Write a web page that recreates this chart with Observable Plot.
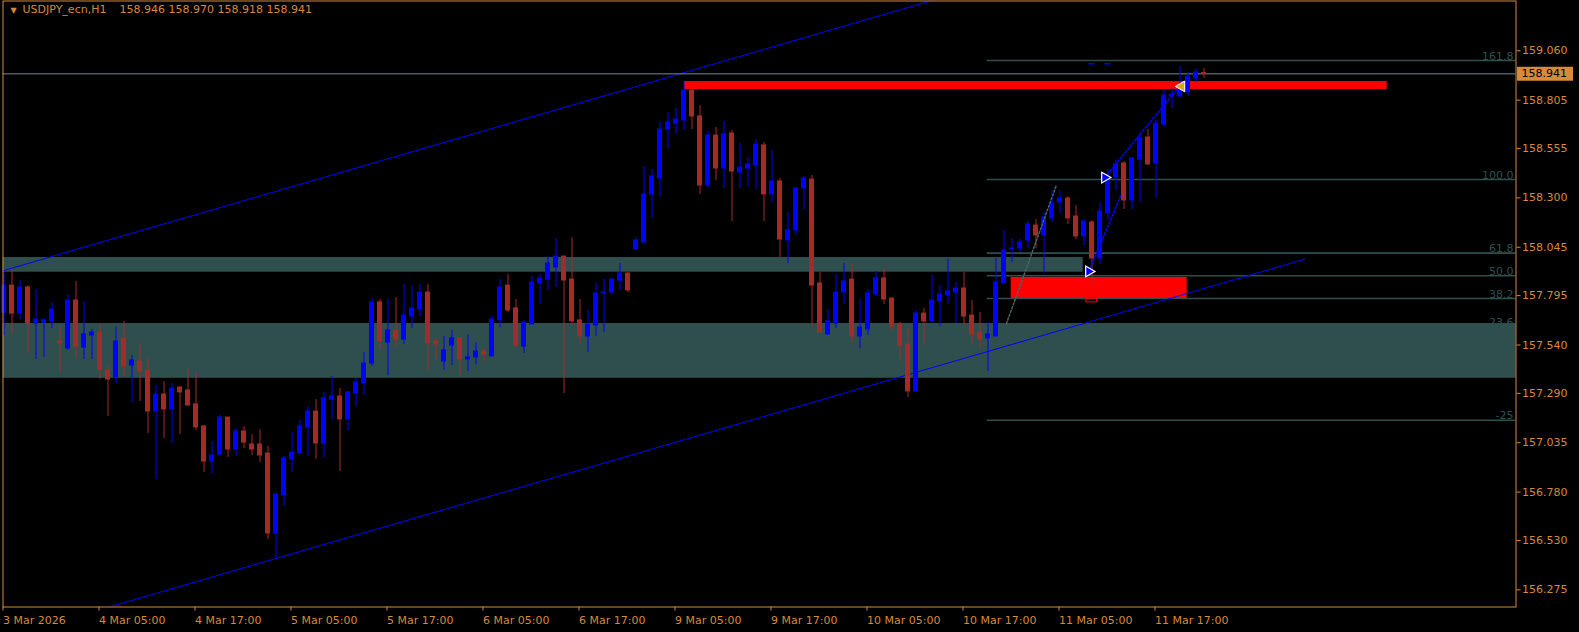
<!DOCTYPE html>
<html><head><meta charset="utf-8">
<script src="https://cdn.jsdelivr.net/npm/d3@7"></script>
<script src="https://cdn.jsdelivr.net/npm/@observablehq/plot@0.6"></script>
<style>html,body{margin:0;padding:0;background:#000;overflow:hidden}</style>
</head><body><div id="chart"></div>
<script>
// ---- Data (USDJPY_ecn, H1; bar index 0 = 3 Mar 17:00, 150 = 11 Mar 23:00) ----
const opens = [157.708,157.847,157.702,157.837,157.651,157.656,157.662,157.558,157.522,157.770,157.527,157.589,157.604,157.408,157.372,157.573,157.434,157.455,157.408,157.196,157.284,157.207,157.320,157.305,157.233,157.119,156.938,156.974,157.165,157.000,157.093,157.026,157.026,156.979,156.566,156.763,156.948,156.979,157.114,157.196,157.031,157.258,157.274,157.155,157.289,157.341,157.444,157.760,157.553,157.615,157.568,157.687,157.723,157.811,157.558,157.455,157.537,157.574,157.465,157.476,157.506,157.481,157.667,157.847,157.729,157.532,157.646,157.858,157.878,157.940,157.997,157.878,157.667,157.584,157.641,157.806,157.811,157.873,157.909,158.033,158.070,158.318,158.400,158.653,158.684,158.700,158.855,158.721,158.364,158.622,158.452,158.633,158.431,158.452,158.467,158.571,158.318,158.385,158.080,158.132,158.349,158.395,157.858,157.594,157.651,157.811,157.878,157.584,157.620,157.801,157.884,157.780,157.646,157.543,157.300,157.702,157.662,157.765,157.796,157.811,157.832,157.692,157.604,157.574,157.584,157.858,158.033,158.039,158.080,158.157,158.106,158.194,158.276,158.297,158.204,158.101,158.173,157.987,158.219,158.405,158.478,158.287,158.498,158.612,158.478,158.679,158.824,158.824,158.845,158.917,158.946];
const highs = [157.909,157.925,157.873,157.847,157.827,157.677,157.760,157.636,157.801,157.868,157.765,157.620,157.646,157.429,157.630,157.662,157.486,157.548,157.470,157.331,157.351,157.341,157.326,157.413,157.398,157.124,157.041,157.176,157.165,157.109,157.119,157.077,157.103,157.016,156.773,156.964,157.088,157.150,157.222,157.258,157.295,157.377,157.315,157.300,157.367,157.501,157.780,157.775,157.775,157.785,157.853,157.842,157.853,157.853,157.574,157.584,157.615,157.574,157.594,157.553,157.517,157.687,157.878,157.904,157.775,157.667,157.894,157.904,157.997,158.090,157.997,158.095,157.775,157.718,157.858,157.878,157.878,157.961,157.914,158.095,158.462,158.447,158.690,158.741,158.762,158.901,158.855,158.777,158.643,158.664,158.695,158.648,158.581,158.509,158.602,158.586,158.545,158.400,158.225,158.349,158.411,158.416,157.914,157.723,157.904,157.961,157.956,157.775,157.827,157.920,157.935,157.785,157.656,157.625,157.718,157.729,157.899,157.847,157.982,157.863,157.914,157.770,157.708,157.656,157.987,158.132,158.090,158.085,158.178,158.188,158.225,158.338,158.338,158.307,158.261,158.183,158.183,158.276,158.447,158.493,158.488,158.504,158.633,158.653,158.700,158.855,158.865,158.979,158.948,158.969,158.970];
const lows = [157.589,157.599,157.667,157.496,157.465,157.476,157.625,157.398,157.512,157.470,157.465,157.465,157.362,157.171,157.341,157.372,157.243,157.248,157.083,156.845,157.057,157.031,157.077,157.227,157.098,156.881,156.876,156.969,156.959,156.964,157.005,156.969,156.933,156.535,156.437,156.706,156.881,156.979,156.964,156.948,156.959,157.155,156.886,157.098,157.222,157.279,157.429,157.517,157.382,157.532,157.543,157.625,157.687,157.403,157.465,157.408,157.434,157.382,157.403,157.439,157.455,157.481,157.630,157.708,157.527,157.496,157.646,157.749,157.822,157.837,157.289,157.641,157.543,157.501,157.584,157.605,157.801,157.822,157.811,158.033,158.064,158.194,158.307,158.555,158.628,158.648,158.653,158.318,158.349,158.390,158.349,158.178,158.349,158.359,158.343,158.178,158.276,157.992,157.961,158.106,158.240,157.630,157.604,157.594,157.625,157.749,157.553,157.522,157.589,157.791,157.749,157.615,157.460,157.269,157.300,157.543,157.656,157.636,157.749,157.651,157.636,157.543,157.522,157.403,157.584,157.858,157.966,158.018,158.039,158.039,157.909,158.173,158.219,158.163,158.085,158.054,157.853,157.956,158.188,158.338,158.240,158.240,158.276,158.467,158.297,158.664,158.762,158.824,158.824,158.896,158.918];
const closes = [157.847,157.702,157.837,157.651,157.672,157.667,157.723,157.548,157.770,157.532,157.594,157.604,157.413,157.362,157.558,157.429,157.460,157.403,157.196,157.284,157.207,157.315,157.295,157.227,157.114,156.938,156.969,157.165,157.000,157.093,157.036,157.000,156.969,156.566,156.768,156.954,156.985,157.119,157.196,157.031,157.264,157.274,157.155,157.295,157.346,157.444,157.760,157.558,157.615,157.568,157.692,157.729,157.811,157.548,157.543,157.512,157.574,157.465,157.476,157.506,157.491,157.672,157.837,157.718,157.537,157.656,157.863,157.884,157.961,157.997,157.873,157.662,157.584,157.646,157.806,157.811,157.878,157.909,157.822,158.080,158.318,158.411,158.653,158.690,158.705,158.855,158.721,158.364,158.622,158.452,158.628,158.436,158.457,158.473,158.576,158.318,158.385,158.085,158.132,158.349,158.400,157.847,157.604,157.662,157.811,157.868,157.584,157.630,157.806,157.884,157.775,157.636,157.537,157.300,157.702,157.662,157.770,157.801,157.816,157.832,157.687,157.594,157.568,157.594,157.863,158.028,158.039,158.070,158.163,158.106,158.199,158.271,158.297,158.194,158.101,158.178,157.987,158.230,158.390,158.473,158.287,158.504,158.607,158.473,158.684,158.829,158.834,158.855,158.927,158.948,158.941];

const priceTicks = [159.060,158.805,158.555,158.300,158.045,157.795,157.540,157.290,157.035,156.780,156.530,156.275];
const dateTicks = [0,12,24,36,48,60,72,84,96,108,120,132,144];
const dateLabels = ["3 Mar 2026","4 Mar 05:00","4 Mar 17:00","5 Mar 05:00","5 Mar 17:00","6 Mar 05:00","6 Mar 17:00","9 Mar 05:00","9 Mar 17:00","10 Mar 05:00","10 Mar 17:00","11 Mar 05:00","11 Mar 17:00"];
const symbolName = "USDJPY_ecn,H1";
const lastBar = ["158.946","158.970","158.918","158.941"];
const bidPrice = 158.941;

// Fibonacci retracement (anchors 100 / 0) and displayed levels
const fibHigh = 158.395, fibLow = 157.400, fibStart = 122.9;
const fibLevels = [161.8, 100.0, 61.8, 50.0, 38.2, 23.6, -25];
const fibText = ["161.8","100.0","61.8","50.0","38.2","23.6","-25"];

// Zones (bar index x1..x2, price y1..y2)
const greyZones = [
  {x1: -0.125, x2: 134.9, y1: 157.916, y2: 157.992},
  {x1: -0.125, x2: 189, y1: 157.368, y2: 157.651}
];
const redZones = [
  {x1: 85.06, x2: 172.9, y1: 158.860, y2: 158.901},
  {x1: 125.9, x2: 147.9, y1: 157.780, y2: 157.889}
];
const redOutline = [{x1: 135.3, x2: 136.65, y1: 157.760, y2: 157.779}];

// Equidistant channel
const channelTop = [{i: -1, p: 157.913}, {i: 162.6, p: 159.880}];
const channelBottom = [{i: -1, p: 156.016}, {i: 162.6, p: 157.983}];

// Zigzag / signal lines and markers
const greyDotted = [{i: 125.3, p: 157.650}, {i: 131.5, p: 158.360}];
const blueDottedA = [{i: 135.6, p: 157.920}, {i: 139.6, p: 158.312}];
const blueDottedB = [{i: 137.6, p: 158.405}, {i: 146.8, p: 158.870}];
const topDashes = [{a: 135.6, b: 136.4, p: 158.993}, {a: 137.6, b: 138.4, p: 158.993}];
const buyArrows = [{i: 135.6, p: 157.920}, {i: 137.6, p: 158.405}];
const sellArrow = [{i: 147.2, p: 158.876}];

// ---- Chart ----
const BULL = "#0000FF", BEAR = "#A52A2A", ORANGE = "#D68A3C", SLATE = "#2F4F4F";
const X0 = -0.125, X1 = 189;
const bars = opens.map((o, i) => ({i, o, h: highs[i], l: lows[i], c: closes[i], col: closes[i] >= o ? BULL : BEAR}));
const fibPrice = L => fibLow + (fibHigh - fibLow) * L / 100;

const chart = Plot.plot({
  width: 1579, height: 632,
  marginLeft: 2.5, marginRight: 63.5, marginTop: 0.5, marginBottom: 25.5,
  x: {type: "linear", domain: [X0, X1]},
  y: {type: "linear", domain: [156.1862, 159.3174]},
  style: {background: "#000", color: ORANGE, fontFamily: "DejaVu Sans, sans-serif", fontSize: "11px", overflow: "visible"},
  marks: [
    Plot.ruleY(fibLevels, {y: fibPrice, x1: fibStart, x2: X1, stroke: SLATE, strokeWidth: 1.6}),
    Plot.text(fibLevels, {x: X1, y: fibPrice, text: (d, k) => fibText[k], textAnchor: "end", lineAnchor: "bottom", dx: -2.5, dy: -1, fill: SLATE}),
    Plot.rect(greyZones, {x1: "x1", x2: "x2", y1: "y1", y2: "y2", fill: SLATE}),
    Plot.rect(redZones, {x1: "x1", x2: "x2", y1: "y1", y2: "y2", fill: "#FF0000"}),
    Plot.rect(redOutline, {x1: "x1", x2: "x2", y1: "y1", y2: "y2", fill: "none", stroke: "#FF0000"}),
    Plot.line(channelTop, {x: "i", y: "p", stroke: BULL, strokeWidth: 1, clip: true}),
    Plot.line(channelBottom, {x: "i", y: "p", stroke: BULL, strokeWidth: 1, clip: true}),
    Plot.ruleY([bidPrice], {stroke: "#778899", strokeWidth: 1}),
    Plot.ruleX(bars, {x: "i", y1: "l", y2: "h", stroke: "col", strokeWidth: 1}),
    Plot.rect(bars, {x1: d => d.i - 0.3125, x2: d => d.i + 0.3125, y1: "o", y2: "c", fill: "col", insetTop: -0.5, insetBottom: -0.5}),
    Plot.line(greyDotted, {x: "i", y: "p", stroke: "#4a6464", strokeDasharray: "2,2"}),
    Plot.line(blueDottedA, {x: "i", y: "p", stroke: BULL, strokeDasharray: "2,2"}),
    Plot.line(blueDottedB, {x: "i", y: "p", stroke: BULL, strokeDasharray: "2,2"}),
    Plot.ruleY(topDashes, {y: "p", x1: "a", x2: "b", stroke: BULL, strokeWidth: 1.5}),
    Plot.dot(buyArrows, {x: "i", y: "p", symbol: "triangle", rotate: 90, r: 4, fill: BULL, stroke: "#fff", strokeWidth: 1.2}),
    Plot.dot(sellArrow, {x: "i", y: "p", symbol: "triangle", rotate: -90, r: 4, fill: "#DAA520", stroke: "#fff", strokeWidth: 1}),
    Plot.axisY(priceTicks, {anchor: "right", tickSize: 4, tickPadding: 2, tickFormat: d => d.toFixed(3), stroke: ORANGE, fill: ORANGE, label: null}),
    Plot.axisX(dateTicks, {anchor: "bottom", tickSize: 4, tickPadding: 5, tickFormat: d => dateLabels[dateTicks.indexOf(d)], textAnchor: "start", dx: -1, stroke: ORANGE, fill: ORANGE, label: null}),
    Plot.ruleY([bidPrice], {x1: 189.19, x2: 196.19, stroke: ORANGE, strokeWidth: 14}),
    Plot.text([bidPrice], {x: 189.19, y: d => d, text: d => d.toFixed(3), fill: "#000", textAnchor: "start", dx: 4}),
    Plot.text([symbolName], {frameAnchor: "top-left", text: d => d, dx: 19.5, dy: 4, textAnchor: "start", lineAnchor: "top", fill: ORANGE, ariaLabel: "header-symbol"}),
    Plot.text([lastBar.join(" ")], {frameAnchor: "top-left", text: d => d, dx: 116.5, dy: 4, textAnchor: "start", lineAnchor: "top", fill: ORANGE, ariaLabel: "header-ohlc"}),
    Plot.text(["\u25BC"], {frameAnchor: "top-left", text: d => d, dx: 7.5, dy: 6, fontSize: 8, lineAnchor: "top", fill: ORANGE}),
    Plot.frame({stroke: ORANGE})
  ]
});
d3.select(chart).selectAll('g[aria-label="header-symbol"] text').style("letter-spacing", "0.8px");
d3.select(chart).selectAll('g[aria-label="header-ohlc"] text').style("letter-spacing", "0.25px");
document.getElementById("chart").appendChild(chart);
</script>
</body></html>
